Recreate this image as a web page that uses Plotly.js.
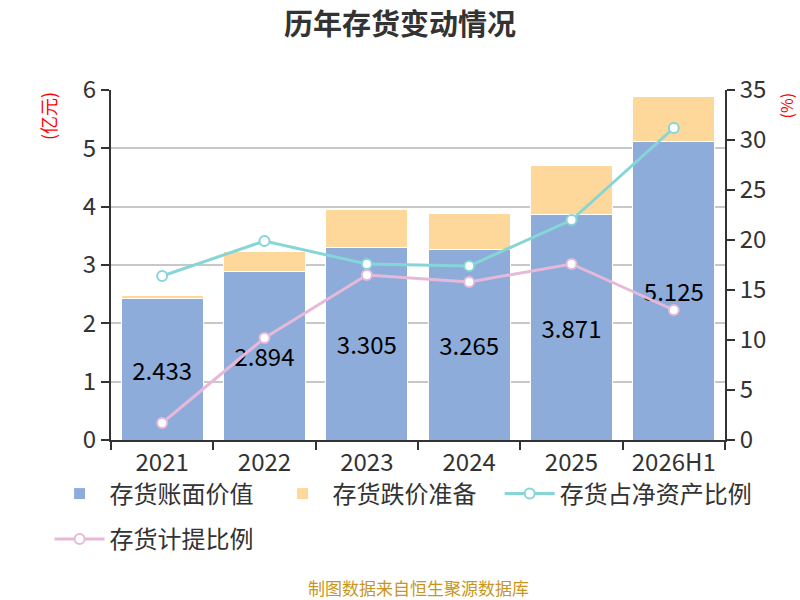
<!DOCTYPE html>
<html>
<head>
<meta charset="utf-8">
<script src="https://cdn.plot.ly/plotly-3.0.1.min.js"></script>
<style>
  body { margin: 0; background: #fff; }
  #chart { width: 800px; height: 600px; }
</style>
</head>
<body>
<div id="chart"></div>
<script>
// 数据
var years = ['2021', '2022', '2023', '2024', '2025', '2026H1']
var bookValue = [2.433, 2.894, 3.305, 3.265, 3.871, 5.125]
var reserve = [0.042, 0.329, 0.653, 0.613, 0.827, 0.77]
var ratioNetAssets = [16.4, 19.9, 17.6, 17.4, 22.0, 31.2]
var ratioReserve = [1.7, 10.2, 16.5, 15.8, 17.6, 13.0]

var fontFam = '"Noto Sans CJK SC", "Noto Sans", sans-serif'

var trBook = {
    x: years,
    y: bookValue,
    type: 'bar',
    name: '存货账面价值',
    text: bookValue.map(v => v.toFixed(3)),
    textposition: 'inside',
    insidetextanchor: 'middle',
    textangle: 0,
    insidetextfont: { size: 24, color: '#000' },
    marker: { color: '#8DACD9', line: { color: '#fff', width: 1 } },
    hoverinfo: 'none'
}

var trReserve = {
    x: years,
    y: reserve,
    type: 'bar',
    name: '存货跌价准备',
    marker: { color: '#FDD89A', line: { color: '#fff', width: 1 } },
    hoverinfo: 'none'
}

var trNet = {
    x: years,
    y: ratioNetAssets,
    yaxis: 'y2',
    type: 'scatter',
    mode: 'lines+markers',
    name: '存货占净资产比例',
    legend: 'legend3',
    line: { color: '#86D6D8', width: 3 },
    marker: { size: 10, color: '#fff', line: { color: '#86D6D8', width: 2 } }
}

var trRes = {
    x: years,
    y: ratioReserve,
    yaxis: 'y2',
    type: 'scatter',
    mode: 'lines+markers',
    name: '存货计提比例',
    legend: 'legend2',
    line: { color: '#E6B9DA', width: 3 },
    marker: { size: 10, color: '#fff', line: { color: '#E6B9DA', width: 2 } }
}

var axisCommon = {
    showline: true,
    linecolor: '#333',
    linewidth: 2,
    ticks: 'outside',
    ticklen: 8,
    tickwidth: 2,
    tickcolor: '#333',
    tickfont: { size: 24, color: '#333' },
    zeroline: false
}

var legendCommon = {
    orientation: 'h',
    traceorder: 'normal',
    x: -0.1,
    xanchor: 'left',
    yanchor: 'top',
    bgcolor: 'rgba(0,0,0,0)',
    font: { size: 24, color: '#333' },
    itemwidth: 50
}

var layout = {
    width: 800,
    height: 600,
    margin: { l: 111, r: 75, t: 90, b: 160 },
    paper_bgcolor: '#fff',
    plot_bgcolor: '#fff',
    font: { family: fontFam, color: '#333' },
    barmode: 'stack',
    bargap: 0.2,
    showlegend: true,
    title: {
        text: '<b>历年存货变动情况</b>',
        x: 0.5,
        y: 0.958,
        xanchor: 'center',
        yanchor: 'middle',
        font: { size: 29, color: '#333', family: fontFam }
    },
    xaxis: Object.assign({}, axisCommon, {
        type: 'category',
        tickson: 'boundaries',
        showgrid: false
    }),
    yaxis: Object.assign({}, axisCommon, {
        range: [0, 6],
        dtick: 1,
        gridcolor: '#C8C8C8',
        gridwidth: 2
    }),
    yaxis2: Object.assign({}, axisCommon, {
        overlaying: 'y',
        side: 'right',
        range: [0, 35],
        dtick: 5,
        showgrid: false
    }),
    legend: Object.assign({}, legendCommon, { y: -0.09, entrywidth: 158, entrywidthmode: 'pixels' }),
    legend3: Object.assign({}, legendCommon, { x: 0.633, y: -0.09 }),
    legend2: Object.assign({}, legendCommon, { y: -0.22 }),
    annotations: [
        {
            text: '(亿元)',
            xref: 'paper', yref: 'paper',
            x: -0.1026, y: 1.0,
            xanchor: 'center', yanchor: 'top',
            textangle: -90,
            showarrow: false,
            font: { size: 18, color: '#f00' }
        },
        {
            text: '(%)',
            xref: 'paper', yref: 'paper',
            x: 1.1, y: 1.0,
            xanchor: 'center', yanchor: 'top',
            textangle: -90,
            showarrow: false,
            font: { size: 16, color: '#f00' }
        },
        {
            text: '制图数据来自恒生聚源数据库',
            xref: 'paper', yref: 'paper',
            x: 0.5, y: -0.42,
            xanchor: 'center', yanchor: 'middle',
            showarrow: false,
            font: { size: 17, color: '#C8961E' }
        }
    ]
}

Plotly.newPlot('chart', [trBook, trReserve, trNet, trRes], layout, { displayModeBar: false, staticPlot: true })
</script>
</body>
</html>
